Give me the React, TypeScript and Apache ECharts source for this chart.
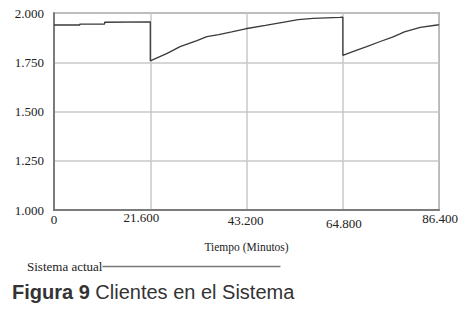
import React, { useEffect, useRef } from "react";
import * as echarts from "echarts";

const timeMinutes = [
  0, 5790, 5790, 11357, 11357, 21600,
  21600, 25385, 28280, 32066, 34293, 36965, 39860, 42977, 47430, 50994, 54779, 58119, 64132, 64800,
  64800, 67027, 70144, 73039, 75934, 77493, 78606, 82168, 85954, 86400,
];
const clientes = [
  1939, 1939, 1944, 1944, 1953, 1955,
  1757, 1795, 1829, 1860, 1880, 1890, 1904, 1920, 1937, 1951, 1966, 1973, 1978, 1979,
  1785, 1804, 1829, 1854, 1878, 1893, 1904, 1927, 1939, 1941,
];
const seriesName = "Sistema actual";
const xAxisTitle = "Tiempo (Minutos)";
const figureLabel = "Figura 9";
const figureCaption = " Clientes en el Sistema";

const SERIF = "Liberation Serif";
const SANS = "Liberation Sans";

const fmt = (v: number) => {
  const s = String(Math.round(v));
  return s.replace(/\B(?=(\d{3})+(?!\d))/g, ".");
};

const xLabelStyle = (pad: number[]) => ({
  fontFamily: SERIF,
  fontSize: 13,
  color: "#222",
  padding: pad,
});

export default function App() {
  const ref = useRef<HTMLDivElement>(null);
  useEffect(() => {
    if (!ref.current) return;
    const chart = echarts.init(ref.current, null, { renderer: "svg" });
    const data = timeMinutes.map((t, i) => [t, clientes[i]]);
    chart.setOption({
      animation: false,
      backgroundColor: "#ffffff",
      textStyle: { fontFamily: SERIF },
      grid: {
        left: 54,
        right: 19,
        top: 13,
        bottom: 118,
        show: true,
        borderColor: "#7a7a7a",
        borderWidth: 1.5,
        backgroundColor: "transparent",
      },
      title: {
        left: 12,
        top: 282,
        padding: 0,
        text: "{b|" + figureLabel + "}{n|" + figureCaption + "}",
        textStyle: {
          fontWeight: "normal",
          rich: {
            b: { fontFamily: SANS, fontWeight: "bold", fontSize: 20, color: "#333333" },
            n: { fontFamily: SANS, fontWeight: "normal", fontSize: 20, color: "#333333" },
          },
        },
      },
      legend: {
        left: 27,
        top: 260,
        align: "right",
        icon: "rect",
        itemWidth: 178,
        itemHeight: 1.6,
        itemGap: 0,
        padding: 0,
        textStyle: { fontFamily: SERIF, fontSize: 13, color: "#222", padding: [0, -5, 0, 0] },
        data: [{ name: seriesName, itemStyle: { color: "#777777" } }],
      },
      xAxis: {
        type: "value",
        min: 0,
        max: 86400,
        interval: 21600,
        name: xAxisTitle,
        nameLocation: "middle",
        nameGap: 31,
        nameTextStyle: { fontFamily: SERIF, fontSize: 11.5, color: "#222" },
        axisLine: { show: true, lineStyle: { color: "#666", width: 1.5 } },
        axisTick: { show: false },
        axisLabel: {
          formatter: (v: number, i: number) => "{r" + i + "|" + fmt(v) + "}",
          margin: 1,
          fontFamily: SERIF,
          fontSize: 13,
          color: "#222",
          rich: {
            r0: xLabelStyle([2, 0, 0, 0]),
            r1: xLabelStyle([0, 18, 0, 0]),
            r2: xLabelStyle([3, 2, 0, 0]),
            r3: xLabelStyle([6, 0, 0, 2]),
            r4: xLabelStyle([1, 0, 0, 2]),
          },
        },
        splitLine: { show: true, lineStyle: { color: "#c8c8c8", width: 1.5 } },
      },
      yAxis: {
        type: "value",
        min: 1000,
        max: 2000,
        interval: 250,
        axisLine: { show: true, lineStyle: { color: "#666", width: 1.5 } },
        axisTick: { show: false },
        axisLabel: {
          formatter: fmt,
          margin: 10,
          fontFamily: SERIF,
          fontSize: 13,
          color: "#222",
        },
        splitLine: { show: true, lineStyle: { color: "#c8c8c8", width: 1.5 } },
      },
      series: [
        {
          name: seriesName,
          type: "line",
          data,
          showSymbol: false,
          symbol: "none",
          lineStyle: { color: "#3a3a3a", width: 1.3 },
          itemStyle: { color: "#777777" },
        },
      ],
    });
    return () => chart.dispose();
  }, []);
  return (
    <div
      ref={ref}
      style={{ position: "absolute", left: 0, top: 0, width: 461, height: 328 }}
    />
  );
}
